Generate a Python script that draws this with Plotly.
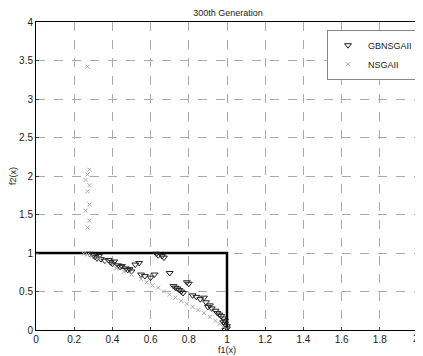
import plotly.graph_objects as go

gb_x = [0.28, 0.30, 0.31, 0.32, 0.33, 0.34, 0.36, 0.38, 0.39, 0.40, 0.41, 0.43, 0.44, 0.45, 0.47,
        0.48, 0.49, 0.50, 0.52, 0.54, 0.55, 0.57, 0.60, 0.62, 0.63, 0.64, 0.66, 0.67, 0.70, 0.72,
        0.73, 0.74, 0.75, 0.76, 0.77, 0.79, 0.80, 0.82, 0.84, 0.86, 0.88, 0.89, 0.90, 0.91, 0.92,
        0.94, 0.95, 0.96, 0.97, 0.98, 0.99, 0.99, 1.00, 1.00, 0.99, 0.98]
gb_y = [0.99, 0.97, 0.95, 0.93, 0.96, 0.92, 0.90, 0.91, 0.88, 0.86, 0.89, 0.84, 0.82, 0.83, 0.80,
        0.78, 0.79, 0.76, 0.85, 0.87, 0.72, 0.70, 0.68, 0.72, 0.99, 0.97, 0.96, 0.94, 0.74, 0.57,
        0.55, 0.54, 0.52, 0.50, 0.48, 0.62, 0.60, 0.45, 0.43, 0.40, 0.42, 0.36, 0.30, 0.32, 0.28,
        0.25, 0.22, 0.20, 0.18, 0.15, 0.12, 0.08, 0.05, 0.02, 0.00, 0.10]

ns_x = [0.25, 0.27, 0.29, 0.33, 0.37, 0.42, 0.46, 0.50, 0.55, 0.58, 0.61, 0.64, 0.67, 0.70, 0.73,
        0.76, 0.79, 0.82, 0.85, 0.88, 0.91, 0.94, 0.96, 0.98, 1.00,
        0.27, 0.28, 0.26, 0.28, 0.27, 0.28, 0.26, 0.27, 0.28, 0.27]
ns_y = [0.99, 0.98, 0.96, 0.93, 0.89, 0.80, 0.76, 0.72, 0.66, 0.62, 0.58, 0.55, 0.50, 0.46, 0.42,
        0.38, 0.34, 0.30, 0.26, 0.22, 0.17, 0.12, 0.08, 0.04, 0.01,
        1.33, 1.42, 1.55, 1.63, 1.80, 1.88, 1.95, 2.02, 2.08, 3.42]

front_x = [0, 1, 1]
front_y = [1, 1, 0]

x_ticks = [0, 0.2, 0.4, 0.6, 0.8, 1, 1.2, 1.4, 1.6, 1.8, 2]
x_labels = ["0", "0.2", "0.4", "0.6", "0.8", "1", "1.2", "1.4", "1.6", "1.8", "2"]
y_ticks = [0, 0.5, 1, 1.5, 2, 2.5, 3, 3.5, 4]
y_labels = ["0", "0.5", "1", "1.5", "2", "2.5", "3", "3.5", "4"]

fig = go.Figure()
fig.add_trace(go.Scatter(x=front_x, y=front_y, mode="lines",
                         line=dict(color="black", width=2.5), showlegend=False, hoverinfo="skip"))
fig.add_trace(go.Scatter(x=gb_x, y=gb_y, mode="markers", name="GBNSGAII",
                         marker=dict(symbol="triangle-down-open", size=6, color="#222222",
                                     line=dict(width=1))))
fig.add_trace(go.Scatter(x=ns_x, y=ns_y, mode="markers", name="NSGAII",
                         marker=dict(symbol="x-thin-open", size=4, color="#aaaaaa",
                                     line=dict(width=1, color="#aaaaaa"))))

font = "Liberation Sans, Arial, sans-serif"
fig.update_layout(
    width=415, height=348,
    margin=dict(l=28, r=5, t=14, b=26),
    paper_bgcolor="white", plot_bgcolor="white",
    font=dict(family=font, size=10, color="#222222"),
    title=dict(text="300th Generation", x=0.53, xanchor="center", y=0.995, yanchor="top",
               font=dict(size=9, family=font, color="#222222")),
    legend=dict(x=1, xanchor="right", y=0.975, yanchor="top",
                bordercolor="#888888", borderwidth=1, bgcolor="white",
                font=dict(size=9, family=font), itemwidth=30, tracegroupgap=0),
    xaxis=dict(range=[0, 2], tickvals=x_ticks, ticktext=x_labels[:-1] + [""], showgrid=True,
               gridcolor="#aaaaaa", griddash="dash", gridwidth=1,
               showline=True, linecolor="black", linewidth=1, mirror=True,
               ticks="inside", ticklen=3, zeroline=False, automargin=False,
               title=dict(text="f1(x)", standoff=2, font=dict(size=9))),
    yaxis=dict(range=[0, 4], tickvals=y_ticks, ticktext=y_labels, showgrid=True,
               gridcolor="#aaaaaa", griddash="dash", gridwidth=1,
               showline=True, linecolor="black", linewidth=1, mirror=True,
               ticks="inside", ticklen=3, zeroline=False, automargin=False,
               title=dict(text="f2(x)", standoff=2, font=dict(size=9))),
)
fig.add_annotation(x=1, xref="paper", y=0, yref="paper", yanchor="top", xanchor="right",
                   xshift=3, yshift=-1, text=x_labels[-1], showarrow=False,
                   font=dict(size=10, family=font, color="#222222"))
fig.write_html("out.html")
